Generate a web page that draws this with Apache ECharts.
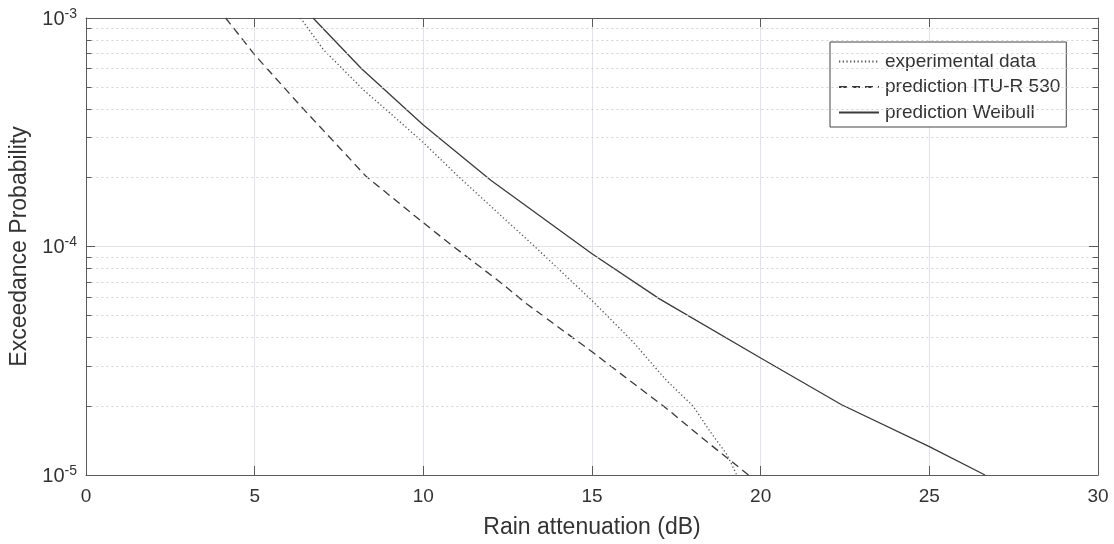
<!DOCTYPE html>
<html>
<head>
<meta charset="utf-8">
<script src="https://cdn.jsdelivr.net/npm/echarts@6/dist/echarts.min.js"></script>
<style>
html,body{margin:0;padding:0;background:#fff;}
#chart{width:1114px;height:544px;}
</style>
</head>
<body>
<div id="chart"></div>
<script>
// ---- data ----
var seriesNames = ['experimental data', 'prediction ITU-R 530', 'prediction Weibull'];

var expX = [6.36, 7.04, 7.6, 8.22, 9.0, 10.0, 11.0, 12.0, 13.3, 15.0, 16.2, 17.2, 18.0, 18.5, 19.0, 19.29];
var expY = [1e-3, 7.26e-4, 6.0e-4, 4.85e-4, 3.85e-4, 2.85e-4, 2.05e-4, 1.5e-4, 1.0e-4, 5.8e-5, 3.85e-5, 2.6e-5, 2.0e-5, 1.55e-5, 1.23e-5, 1e-5];

var ituX = [4.14, 5.0, 6.35, 7.5, 8.3, 10.0, 10.89, 12.27, 13.07, 15.0, 16.0, 17.2, 18.4, 19.64];
var ituY = [1e-3, 6.9e-4, 4.14e-4, 2.72e-4, 2.03e-4, 1.27e-4, 1.0e-4, 7.0e-5, 5.6e-5, 3.46e-5, 2.67e-5, 1.96e-5, 1.4e-5, 1e-5];

var weiX = [6.73, 8.17, 10.0, 12.0, 15.0, 17.0, 20.0, 22.4, 25.0, 26.65];
var weiY = [1e-3, 6.0e-4, 3.4e-4, 1.95e-4, 9.3e-5, 5.9e-5, 3.25e-5, 2.03e-5, 1.33e-5, 1e-5];

var xTicks = [0, 5, 10, 15, 20, 25, 30];
var yMajorTicks = [1e-5, 1e-4, 1e-3];
var yMinorTicks = [2e-5, 3e-5, 4e-5, 5e-5, 6e-5, 7e-5, 8e-5, 9e-5,
                   2e-4, 3e-4, 4e-4, 5e-4, 6e-4, 7e-4, 8e-4, 9e-4];

function zip(xs, ys) { return xs.map(function (x, i) { return [x, ys[i]]; }); }

var FONT = 'Liberation Sans, Arial, Helvetica, sans-serif';
var AXIS_COLOR = '#5a5a5a';
var TEXT_COLOR = '#333333';
var xMin = xTicks[0], xMax = xTicks[xTicks.length - 1];
var tickLenData = 0.16; // minor tick length in x units (~5px)

function supLabel(v) {
  var e = Math.round(Math.log10(v));
  return '{b|10}{s|' + e + '}';
}

var minorGridLines = yMinorTicks.map(function (v) {
  return [{ coord: [xMin + tickLenData, v] }, { coord: [xMax - tickLenData, v] }];
});
var minorTickMarks = [];
yMinorTicks.forEach(function (v) {
  minorTickMarks.push([{ coord: [xMin, v] }, { coord: [xMin + tickLenData, v] }]);
  minorTickMarks.push([{ coord: [xMax - tickLenData, v] }, { coord: [xMax, v] }]);
});

var chart = echarts.init(document.getElementById('chart'));
chart.setOption({
  animation: false,
  backgroundColor: '#ffffff',
  textStyle: { fontFamily: FONT },
  grid: { left: 86, right: 16, top: 18, bottom: 67, containLabel: false },
  legend: {
    orient: 'vertical',
    left: 830, top: 42,
    data: seriesNames,
    itemWidth: 40, itemHeight: 19, itemGap: 6.5,
    padding: [10, 6, 5, 8],
    backgroundColor: '#ffffff',
    borderColor: '#444444', borderWidth: 1,
    itemStyle: { opacity: 0 },
    textStyle: { fontSize: 19, color: TEXT_COLOR, fontFamily: FONT, padding: [0, 0, 0, 1] }
  },
  xAxis: [{
    type: 'value', min: xMin, max: xMax, interval: 5,
    name: 'Rain attenuation (dB)', nameLocation: 'middle', nameGap: 41,
    nameTextStyle: { fontSize: 23, color: TEXT_COLOR, fontFamily: FONT },
    axisLine: { show: true, onZero: false, lineStyle: { color: AXIS_COLOR, width: 1 } },
    axisTick: { show: true, inside: true, length: 9, lineStyle: { color: AXIS_COLOR } },
    axisLabel: { fontSize: 19, color: TEXT_COLOR, margin: 12, fontFamily: FONT },
    splitLine: { show: true, lineStyle: { color: '#e2e2e8', width: 1 } }
  }, {
    type: 'value', min: xMin, max: xMax, interval: 5, position: 'top',
    axisLine: { show: true, onZero: false, lineStyle: { color: AXIS_COLOR, width: 1 } },
    axisTick: { show: true, inside: true, length: 9, lineStyle: { color: AXIS_COLOR } },
    axisLabel: { show: false }, splitLine: { show: false }
  }],
  yAxis: [{
    type: 'log', logBase: 10, min: yMajorTicks[0], max: yMajorTicks[yMajorTicks.length - 1],
    name: 'Exceedance Probability', nameLocation: 'middle', nameGap: 52,
    nameTextStyle: { fontSize: 23, color: TEXT_COLOR, fontFamily: FONT },
    axisLine: { show: true, onZero: false, lineStyle: { color: AXIS_COLOR, width: 1 } },
    axisTick: { show: true, inside: true, length: 9, lineStyle: { color: AXIS_COLOR } },
    axisLabel: {
      margin: 9, color: TEXT_COLOR, fontFamily: FONT,
      formatter: supLabel,
      rich: {
        b: { fontSize: 20, lineHeight: 22, verticalAlign: 'bottom', color: TEXT_COLOR, fontFamily: FONT },
        s: { fontSize: 14, lineHeight: 12, verticalAlign: 'top', color: TEXT_COLOR, fontFamily: FONT }
      }
    },
    splitLine: { show: true, lineStyle: { color: '#e2e2e2', width: 1 } }
  }, {
    type: 'log', logBase: 10, min: yMajorTicks[0], max: yMajorTicks[yMajorTicks.length - 1], position: 'right',
    axisLine: { show: true, onZero: false, lineStyle: { color: AXIS_COLOR, width: 1 } },
    axisTick: { show: true, inside: true, length: 9, lineStyle: { color: AXIS_COLOR } },
    axisLabel: { show: false }, splitLine: { show: false }
  }],
  series: [{
    name: '__minor',
    type: 'line', data: [], silent: true, z: 1,
    markLine: {
      silent: true, symbol: 'none', animation: false,
      label: { show: false },
      lineStyle: { color: '#d2d2d2', type: [2, 3], width: 1 },
      data: minorGridLines
    }
  }, {
    name: '__minorTicks',
    type: 'line', data: [], silent: true,
    markLine: {
      silent: true, symbol: 'none', animation: false,
      label: { show: false },
      lineStyle: { color: AXIS_COLOR, type: 'solid', width: 1 },
      data: minorTickMarks
    }
  }, {
    name: seriesNames[0], type: 'line', data: zip(expX, expY),
    symbol: 'none', smooth: false, z: 3,
    lineStyle: { color: '#555555', width: 1.3, type: [1.3, 2.4] },
    itemStyle: { color: '#555555' }
  }, {
    name: seriesNames[1], type: 'line', data: zip(ituX, ituY),
    symbol: 'none', smooth: false, z: 3,
    lineStyle: { color: '#3a3a3a', width: 1.3, type: [8, 5] },
    itemStyle: { color: '#3a3a3a' }
  }, {
    name: seriesNames[2], type: 'line', data: zip(weiX, weiY),
    symbol: 'none', smooth: false, z: 3,
    lineStyle: { color: '#3a3a3a', width: 1.3, type: 'solid' },
    itemStyle: { color: '#3a3a3a' }
  }]
});
</script>
</body>
</html>
